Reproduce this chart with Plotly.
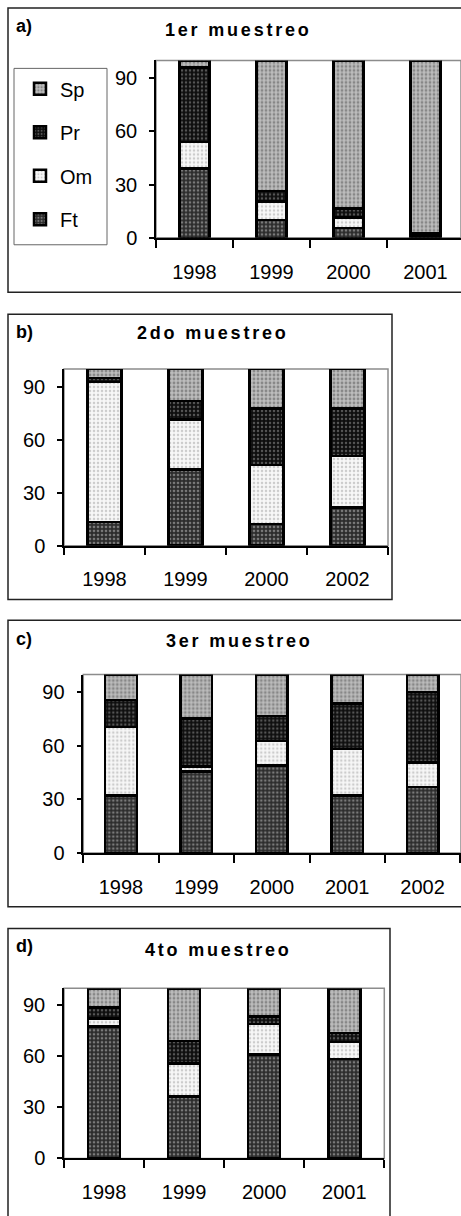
import plotly.graph_objects as go

W, H = 461, 1216

# ---- data: percentage composition per sampling campaign ----
years_a = ["1998", "1999", "2000", "2001"]
ft_a = [39, 10, 5.5, 1]
om_a = [15, 10.5, 6, 0]
pr_a = [42, 6, 5, 1.5]
sp_a = [4, 73.5, 83.5, 97.5]

years_b = ["1998", "1999", "2000", "2002"]
ft_b = [13.5, 43, 12.3, 21.5]
om_b = [79, 28.4, 33.3, 29.3]
pr_b = [2.3, 10.6, 32, 26.8]
sp_b = [5.2, 18, 22.4, 22.4]

years_c = ["1998", "1999", "2000", "2001", "2002"]
ft_c = [32.2, 45.7, 48.9, 32.2, 36.9]
om_c = [38.5, 2.8, 13.9, 26.1, 13.8]
pr_c = [15, 26.9, 13.9, 25.4, 39.5]
sp_c = [14.3, 24.6, 23.3, 16.3, 9.8]

years_d = ["1998", "1999", "2000", "2001"]
ft_d = [77.5, 36.3, 61, 58.3]
om_d = [4.8, 19.4, 18, 10]
pr_d = [6.4, 13.2, 4.3, 5.3]
sp_d = [11.3, 31.1, 16.7, 26.4]

series_names = ["Ft", "Om", "Pr", "Sp"]
legend_rank = {"Sp": 1, "Pr": 2, "Om": 3, "Ft": 4}
y_ticks = [0, 30, 60, 90]
titles = ["1er muestreo", "2do muestreo", "3er muestreo", "4to muestreo"]
tags = ["a)", "b)", "c)", "d)"]

FONT = "Liberation Sans, Arial, sans-serif"
TICK_SIZE = 20

# fill textures for each component
styles = {
    "Ft": dict(bgcolor="#2c2c2c", fgcolor="#7a7a7a", shape=".", size=4, solidity=0.35),
    "Om": dict(bgcolor="#f7f7f7", fgcolor="#cccccc", shape=".", size=4, solidity=0.3),
    "Pr": dict(bgcolor="#0e0e0e", fgcolor="#555555", shape=".", size=4, solidity=0.3),
    "Sp": dict(bgcolor="#bdbdbd", fgcolor="#878787", shape=".", size=4, solidity=0.4),
}

panels = [
    dict(cats=years_a, vals=[ft_a, om_a, pr_a, sp_a], px_x=(156, 461), px_y=(61, 240),
         rng=[-0.5, -0.5 + (461 - 156) / 77.0], bw=0.39),
    dict(cats=years_b, vals=[ft_b, om_b, pr_b, sp_b], px_x=(64, 388), px_y=(372.3, 550.7),
         rng=[-0.5, 3.5], bw=0.42),
    dict(cats=years_c, vals=[ft_c, om_c, pr_c, sp_c], px_x=(83.3, 461), px_y=(680.7, 860.7),
         rng=[-0.5, -0.5 + (461 - 83.3) / 75.4], bw=0.42),
    dict(cats=years_d, vals=[ft_d, om_d, pr_d, sp_d], px_x=(64, 384.3), px_y=(997.3, 1169),
         rng=[-0.5, 3.5], bw=0.40),
]


def px2x(v):
    return v / W


def px2y(v):
    return 1 - v / H


fig = go.Figure()
layout = dict(
    width=W, height=H,
    margin=dict(l=0, r=0, t=0, b=0),
    paper_bgcolor="white", plot_bgcolor="white",
    barmode="stack",
    font=dict(family=FONT, size=TICK_SIZE, color="black"),
    showlegend=True,
)

shapes = []
annotations = []

for i, p in enumerate(panels):
    sfx = "" if i == 0 else str(i + 1)
    xa, ya = "x" + sfx, "y" + sfx
    for name, vals in zip(series_names, p["vals"]):
        fig.add_trace(go.Bar(
            x=p["cats"], y=vals, name=name, xaxis=xa, yaxis=ya,
            width=p["bw"], legendgroup=name, showlegend=(i == 0),
            legendrank=legend_rank[name],
            marker=dict(color=styles[name]["bgcolor"],
                        line=dict(color="black", width=2.5),
                        pattern=dict(shape=styles[name]["shape"],
                                     bgcolor=styles[name]["bgcolor"],
                                     fgcolor=styles[name]["fgcolor"],
                                     size=styles[name]["size"],
                                     solidity=styles[name]["solidity"],
                                     fillmode="replace")),
        ))
    x0, x1 = p["px_x"]
    y0, y1 = p["px_y"]
    layout["xaxis" + sfx] = dict(
        domain=[px2x(x0), min(1.0, px2x(x1))], anchor=ya, type="category",
        range=p["rng"], showline=True, linecolor="black", linewidth=1.5,
        ticks="outside", tickson="boundaries", ticklen=8, tickcolor="black",
        tickwidth=1.5, showgrid=False, zeroline=False, fixedrange=True,
        tickfont=dict(size=TICK_SIZE, family=FONT), ticklabelstandoff=15,
    )
    layout["yaxis" + sfx] = dict(
        domain=[px2y(y1), px2y(y0)], anchor=xa, range=[0, 100],
        tickvals=y_ticks, showline=True, linecolor="black", linewidth=1.5,
        ticks="outside", ticklen=5, tickcolor="black", tickwidth=1.5,
        showgrid=False, zeroline=False, fixedrange=True,
        tickfont=dict(size=TICK_SIZE, family=FONT), ticklabelstandoff=8,
    )
    # plot-area frame (grey top/right edges)
    shapes.append(dict(type="rect", xref=xa + " domain", yref=ya + " domain",
                       x0=0, x1=1, y0=0, y1=1, layer="below",
                       line=dict(color="#8c8c8c", width=1.5)))

# outer frames around each panel
frames = [(8, 8, 470, 295), (8, 317, 392, 605), (8, 626, 470, 915), (8, 937, 390, 1230)]
for fx0, fy0, fx1, fy1 in frames:
    shapes.append(dict(type="rect", xref="paper", yref="paper",
                       x0=px2x(fx0), x1=px2x(fx1), y0=px2y(fy1), y1=px2y(fy0),
                       line=dict(color="#222222", width=1.5), layer="below"))

# legend box in panel a
shapes.append(dict(type="rect", xref="paper", yref="paper",
                   x0=px2x(14), x1=px2x(107), y0=px2y(247), y1=px2y(69),
                   line=dict(color="#666666", width=1)))

title_pos = [(238, 30), (213, 336), (240, 647), (218, 959)]
tag_pos = [(14, 26), (14, 335), (14, 645), (14, 955)]
for t, (tx, ty), tg, (gx, gy) in zip(titles, title_pos, tags, tag_pos):
    annotations.append(dict(
        text='<span style="letter-spacing:2.8px">%s</span>' % t,
        x=px2x(tx), y=px2y(ty), xref="paper", yref="paper",
        xanchor="center", yanchor="middle", showarrow=False,
        font=dict(size=18, family=FONT, color="black", weight="bold")))
    annotations.append(dict(
        text=tg, x=px2x(gx), y=px2y(gy), xref="paper", yref="paper",
        xanchor="left", yanchor="middle", showarrow=False,
        font=dict(size=18, family=FONT, color="black", weight="bold")))

layout["shapes"] = shapes
layout["annotations"] = annotations
layout["legend"] = dict(
    x=px2x(20), y=px2y(70), xanchor="left", yanchor="top",
    traceorder="grouped", tracegroupgap=14.5,
    font=dict(size=TICK_SIZE, family=FONT), bgcolor="rgba(0,0,0,0)",
    borderwidth=0, itemclick=False, itemdoubleclick=False,
)

fig.update_layout(**layout)
fig.write_html("out.html")
